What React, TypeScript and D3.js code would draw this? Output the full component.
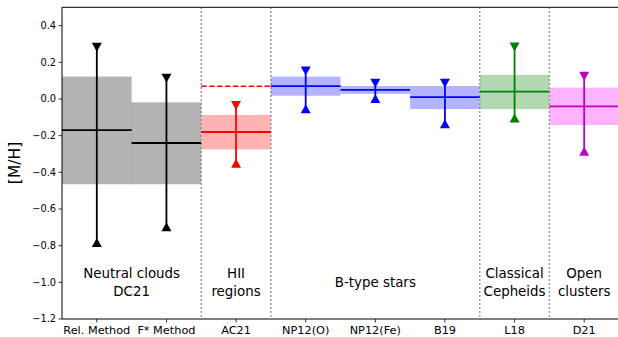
import React from "react";
import * as d3 from "d3";

const categories = ["Rel. Method", "F* Method", "AC21", "NP12(O)", "NP12(Fe)", "B19", "L18", "D21"];
const medians = [-0.17, -0.24, -0.18, 0.07, 0.05, 0.01, 0.04, -0.04];
const boxLow = [-0.465, -0.465, -0.275, 0.018, 0.028, -0.055, -0.055, -0.142];
const boxHigh = [0.122, -0.018, -0.087, 0.122, 0.071, 0.071, 0.131, 0.062];
const errLow = [-0.783, -0.697, -0.35, -0.053, 0.003, -0.135, -0.104, -0.285];
const errHigh = [0.282, 0.113, -0.035, 0.152, 0.086, 0.086, 0.283, 0.124];
const lineColors = ["#000000", "#000000", "#ff0000", "#0000ff", "#0000ff", "#0000ff", "#008000", "#bf00bf"];
const boxColors = ["#b3b3b3", "#b3b3b3", "#ffb3b3", "#b3b3ff", "#b3b3ff", "#b3b3ff", "#b3d9b3", "#ffb3ff"];
const separators = [1.5, 2.5, 5.5, 6.5];
const groupLabels = [["Neutral clouds", "DC21"], ["HII", "regions"], ["B-type stars"], ["Classical", "Cepheids"], ["Open", "clusters"]];
const groupPos = [0.5, 2, 4, 6, 7];
const groupY = -1.0;
const refLine = { value: 0.07, from: 1.5, to: 2.5 };
const yTicks = [0.4, 0.2, 0.0, -0.2, -0.4, -0.6, -0.8, -1.0, -1.2];

export default function App() {
  const W = 618, H = 337;
  const left = 62, right = 619, top = 7.3, bottom = 319;
  const x = d3.scaleLinear().domain([-0.5, 7.5]).range([left, right]);
  const y = d3.scaleLinear().domain([-1.2, 0.5]).range([bottom, top]);
  const font = "DejaVu Sans, sans-serif";
  const fmt = (v: number) => {
    const s = Math.abs(v).toFixed(1);
    return v < -1e-9 ? "\u2212" + s : s;
  };
  const tri = (cx: number, cy: number, down: boolean) => {
    const hw = 5, hh = 4.5;
    return down
      ? `M${cx - hw},${cy - hh}L${cx + hw},${cy - hh}L${cx},${cy + hh}Z`
      : `M${cx - hw},${cy + hh}L${cx + hw},${cy + hh}L${cx},${cy - hh}Z`;
  };
  return (
    <svg width={W} height={H} style={{ position: "absolute", left: 0, top: 0, background: "#fff" }}>
      <defs>
        <clipPath id="plot">
          <rect x={left} y={top} width={right - left} height={bottom - top} />
        </clipPath>
      </defs>
      <g clipPath="url(#plot)">
        {categories.map((c, i) => (
          <rect key={"b" + i} x={x(i - 0.5)} y={y(boxHigh[i])} width={x(i + 0.5) - x(i - 0.5)}
            height={y(boxLow[i]) - y(boxHigh[i])} fill={boxColors[i]} />
        ))}
        <line x1={x(0.5)} x2={x(0.5)} y1={y(boxHigh[1])} y2={y(boxLow[1])} stroke="#a6a6a6" strokeWidth={1} />
        {separators.map((s, i) => (
          <line key={"s" + i} x1={x(s)} x2={x(s)} y1={top} y2={bottom} stroke="#808080"
            strokeWidth={1.5} strokeDasharray="1.5,2.5" />
        ))}
        <line x1={x(refLine.from)} x2={x(refLine.to)} y1={y(refLine.value)} y2={y(refLine.value)}
          stroke="#ff0000" strokeWidth={1.5} strokeDasharray="5.5,2.4" />
        {categories.map((c, i) => (
          <g key={"m" + i}>
            <line x1={x(i - 0.5)} x2={x(i + 0.5)} y1={y(medians[i])} y2={y(medians[i])} stroke={lineColors[i]} strokeWidth={1.8} />
            <line x1={x(i)} x2={x(i)} y1={y(errHigh[i])} y2={y(errLow[i])} stroke={lineColors[i]} strokeWidth={1.8} />
            <path d={tri(x(i), y(errHigh[i]), true)} fill={lineColors[i]} />
            <path d={tri(x(i), y(errLow[i]), false)} fill={lineColors[i]} />
          </g>
        ))}
        {groupLabels.map((lines, g) => {
          const lh = 17.7;
          const y0 = y(groupY) - ((lines.length - 1) * lh) / 2;
          return (
            <text key={"g" + g} x={x(groupPos[g])} textAnchor="middle" fontFamily={font} fontSize={13.4} fill="#000">
              {lines.map((t, k) => (
                <tspan key={k} x={x(groupPos[g])} y={y0 + k * lh} dy="0.35em">{t}</tspan>
              ))}
            </text>
          );
        })}
      </g>
      <line x1={left} x2={left} y1={top} y2={bottom} stroke="#000" strokeWidth={1} />
      <line x1={left} x2={right} y1={bottom} y2={bottom} stroke="#000" strokeWidth={1} />
      <line x1={left} x2={right} y1={top} y2={top} stroke="#000" strokeWidth={1} />
      {yTicks.map((t, i) => (
        <g key={"yt" + i}>
          <line x1={left - 3.5} x2={left} y1={y(t)} y2={y(t)} stroke="#000" strokeWidth={0.8} />
          <text x={left - 6} y={y(t)} dy="0.35em" textAnchor="end" fontFamily={font} fontSize={9.8} fill="#000">{fmt(t)}</text>
        </g>
      ))}
      {categories.map((c, i) => (
        <g key={"xt" + i}>
          <line x1={x(i)} x2={x(i)} y1={bottom} y2={bottom + 3.5} stroke="#000" strokeWidth={0.8} />
          <text x={x(i)} y={bottom + 14.5} textAnchor="middle" fontFamily={font} fontSize={11.3} fill="#000">{c}</text>
        </g>
      ))}
      <text transform={`translate(20,163) rotate(-90)`} textAnchor="middle" fontFamily={font} fontSize={15.5} fill="#000">[M/H]</text>
    </svg>
  );
}
